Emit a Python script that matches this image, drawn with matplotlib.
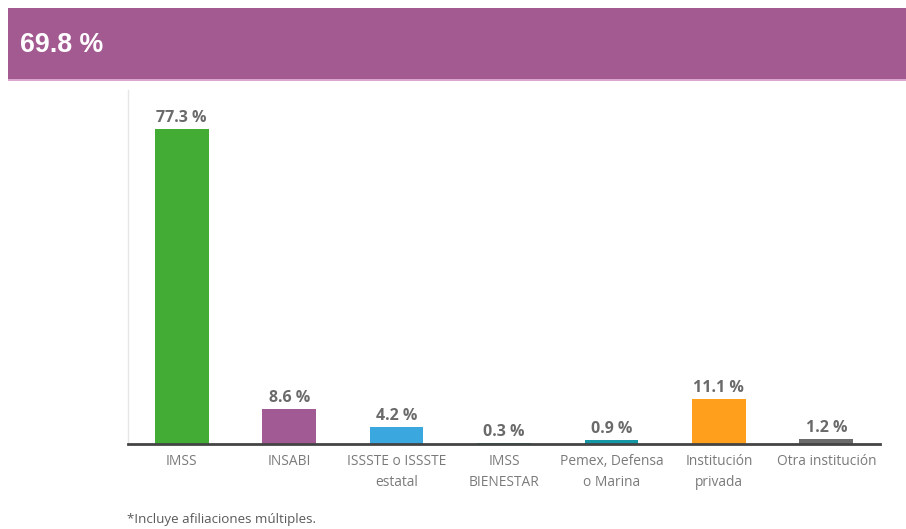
import matplotlib
matplotlib.use("Agg")
import matplotlib.pyplot as plt
from matplotlib.patches import Rectangle

categories = ["IMSS", "INSABI", "ISSSTE o ISSSTE\nestatal", "IMSS\nBIENESTAR",
              "Pemex, Defensa\no Marina", "Institución\nprivada", "Otra institución"]
values = [77.3, 8.6, 4.2, 0.3, 0.9, 11.1, 1.2]
colors = ["#43AC34", "#A15A94", "#3AA8DF", "#1A9E8C", "#1697A6", "#FF9F1C", "#6B6B6B"]
header = "69.8 %"
footnote = "*Incluye afiliaciones múltiples."

W, H = 906, 529
fig = plt.figure(figsize=(W/100, H/100), dpi=100)

# Header banner
fig.patches.append(Rectangle((8/W, 1-80/H), (W-8)/W, 72/H, transform=fig.transFigure,
                             facecolor="#A25A91", edgecolor="none"))
fig.patches.append(Rectangle((8/W, 1-81/H), (W-8)/W, 1.5/H, transform=fig.transFigure,
                             facecolor="#D9A6CF", edgecolor="none"))
fig.text(20/W, 1-45/H, header, color="white", fontsize=19.3, fontweight="bold",
         family="Liberation Sans", va="center", ha="left")

ax = fig.add_axes([128/W, 1-444/H, 752/W, 354/H])
x = list(range(len(categories)))
ax.bar(x, values, width=0.5, color=colors)
ax.set_xlim(-0.5, len(categories)-0.5)
ax.set_ylim(0, 86.9)
for xi, v in zip(x, values):
    ax.text(xi, v + 0.7, f"{v:.1f} %", ha="center", va="bottom", fontsize=11.5,
            fontweight="bold", color="#6A6A6A", family="Open Sans")
ax.set_xticks(x)
ax.set_xticklabels(categories, fontsize=9.9, color="#7A7A7A", family="Open Sans",
                   linespacing=1.55)
ax.tick_params(axis="x", length=0, pad=7)
ax.set_yticks([])
for s in ["top", "right"]:
    ax.spines[s].set_visible(False)
ax.spines["left"].set_color("#E6E6E6")
ax.spines["left"].set_linewidth(1)
ax.spines["bottom"].set_color("#444444")
ax.spines["bottom"].set_linewidth(2)

fig.text(127/W, 1-520/H, footnote, fontsize=9.6, color="#5A5A5A", family="Open Sans",
         va="center", ha="left")

fig.savefig("out.png", dpi=100)
